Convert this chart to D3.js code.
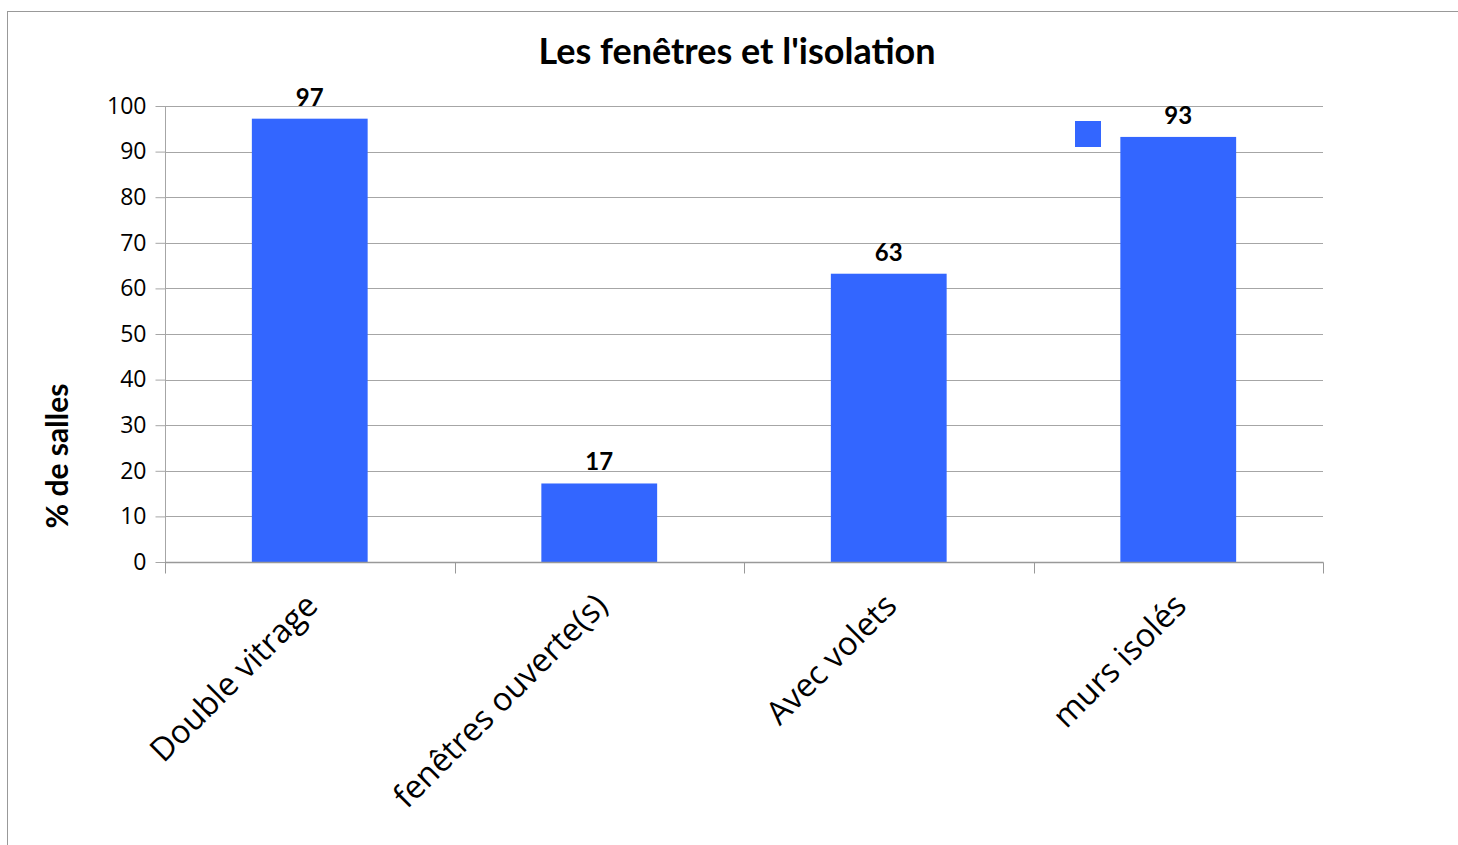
<!DOCTYPE html>
<html><head><meta charset="utf-8">
<script src="https://cdn.jsdelivr.net/npm/d3@7"></script>
<style>body{margin:0;background:#fff}svg{display:block}</style>
</head><body>
<svg id="c" width="1458" height="845"></svg>
<script>
const categories = ["Double vitrage", "fenêtres ouverte(s)", "Avec volets", "murs isolés"];
const values = [97, 17, 63, 93];
const yTicks = [0, 10, 20, 30, 40, 50, 60, 70, 80, 90, 100];
const title = "Les fenêtres et l'isolation";
const yTitle = "% de salles";

const svg = d3.select("#c");
const L = 165, R = 1323, T = 106, B = 562;

svg.append("rect").attr("x", 7.5).attr("y", 11.5).attr("width", 1480).attr("height", 900)
  .attr("fill", "#fff").attr("stroke", "#999").attr("stroke-width", 1);

const x = d3.scaleBand().domain(categories).range([L, R]).paddingInner(0.6).paddingOuter(0.3);
const xb = d3.scaleBand().domain(categories).range([L, R]);
const y = d3.scaleLinear().domain([0, 100]).range([B, T]);

// gridlines
svg.append("g").selectAll("line").data(yTicks.filter(d => d > 0)).join("line")
  .attr("x1", L).attr("x2", R).attr("y1", d => Math.round(y(d)) + 0.5).attr("y2", d => Math.round(y(d)) + 0.5)
  .attr("stroke", "#a6a6a6").attr("stroke-width", 1);

// bars
svg.append("g").selectAll("rect").data(values).join("rect")
  .attr("x", (d, i) => x(categories[i])).attr("width", x.bandwidth())
  .attr("y", d => y(d) - 1).attr("height", d => y(0) - y(d) + 1).attr("fill", "#3366ff");

// y axis
const ya = svg.append("g").attr("transform", `translate(${L + 0.5},0)`)
  .call(d3.axisLeft(y).tickValues(yTicks).tickSize(10).tickPadding(9));
ya.select(".domain").attr("stroke", "#a6a6a6").attr("d", `M-0,${T}V${B + 11}`);
ya.selectAll(".tick line").attr("stroke", "#a6a6a6");
ya.selectAll("text").attr("font-family", "'Open Sans', sans-serif").attr("font-size", 23).attr("fill", "#000");

// x axis
const xa = svg.append("g").attr("transform", `translate(0,${B + 0.5})`);
xa.append("line").attr("x1", L).attr("x2", R + 0.5).attr("y1", 0).attr("y2", 0).attr("stroke", "#999").attr("stroke-width", 1.5);
const bounds = categories.map(c => xb(c)).concat([R]);
xa.selectAll("line.t").data(bounds).join("line").attr("class", "t")
  .attr("x1", d => Math.round(d) + 0.5).attr("x2", d => Math.round(d) + 0.5).attr("y1", 0).attr("y2", 11)
  .attr("stroke", "#999");
xa.selectAll("text").data(categories).join("text")
  .attr("transform", d => `translate(${xb(d) + xb.bandwidth() / 2 + 10},${45}) rotate(-45)`)
  .attr("text-anchor", "end")
  .attr("font-family", "'Open Sans', sans-serif").attr("font-size", 32.5).attr("fill", "#000")
  .text(d => d);

// value labels
svg.append("g").selectAll("text").data(values).join("text")
  .attr("x", (d, i) => x(categories[i]) + x.bandwidth() / 2).attr("y", d => y(d) - 14)
  .attr("text-anchor", "middle").attr("font-family", "Lato, sans-serif").attr("font-weight", "bold")
  .attr("font-size", 24).attr("fill", "#000").text(d => d);

// legend key (no text)
svg.append("rect").attr("x", 1075).attr("y", 121).attr("width", 26).attr("height", 26).attr("fill", "#3366ff");

// title
svg.append("text").attr("x", 737).attr("y", 64).attr("text-anchor", "middle")
  .attr("font-family", "Lato, sans-serif").attr("font-weight", "bold").attr("font-size", 36).text(title);

// y title
svg.append("text").attr("transform", `translate(68,456) rotate(-90)`).attr("text-anchor", "middle")
  .attr("font-family", "Lato, sans-serif").attr("font-weight", "bold").attr("font-size", 30).text(yTitle);
</script>
</body></html>
